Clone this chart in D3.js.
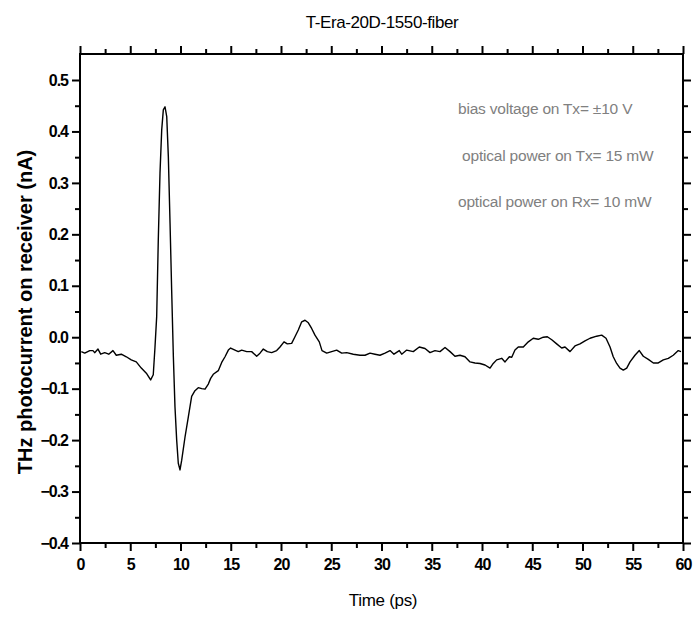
<!DOCTYPE html>
<html>
<head>
<meta charset="utf-8">
<script src="https://cdn.jsdelivr.net/npm/d3@7"></script>
<style>
  body { margin: 0; background: #fff; }
  text { font-family: "Liberation Sans", Arial, sans-serif; }
</style>
</head>
<body>
<script>
// THz photocurrent trace
var timePs = [0.13, 0.47, 0.97, 1.29, 1.46, 1.79, 2.06, 2.46, 2.86, 3.28, 3.61, 4.11, 4.61,
  5.10, 5.60, 6.10, 6.60, 7.03, 7.29, 7.46, 7.63, 7.79, 7.96, 8.13, 8.29, 8.46, 8.63, 8.79,
  8.96, 9.12, 9.29, 9.45, 9.62, 9.78, 9.95, 10.12, 10.45, 10.78, 11.11, 11.44, 11.77, 12.11,
  12.44, 12.77, 13.00, 13.26, 13.76, 14.10, 14.43, 14.76, 14.99, 15.42, 15.75, 16.09, 16.59,
  17.08, 17.58, 17.91, 18.24, 18.64, 19.07, 19.57, 19.90, 20.30, 20.63, 21.06, 21.39, 21.72,
  22.06, 22.39, 22.72, 23.05, 23.38, 23.81, 24.08, 24.55, 25.04, 25.54, 26.04, 26.54, 27.19,
  27.86, 28.36, 28.86, 29.35, 29.85, 30.35, 30.85, 31.24, 31.77, 32.01, 32.51, 33.16, 33.76,
  34.33, 34.83, 35.32, 35.82, 36.32, 36.82, 37.31, 37.81, 38.31, 38.81, 39.30, 39.80, 40.30,
  40.80, 41.12, 41.46, 41.96, 42.29, 42.72, 42.96, 43.28, 43.61, 44.11, 44.61, 45.10, 45.60,
  46.10, 46.50, 46.94, 47.43, 47.93, 48.26, 48.76, 49.25, 49.75, 50.25, 50.75, 51.41, 51.91,
  52.34, 52.74, 53.06, 53.40, 53.73, 54.06, 54.40, 54.73, 55.22, 55.65, 56.05, 56.55, 57.05,
  57.54, 58.04, 58.54, 59.03, 59.53, 59.80];
var currentNa = [-0.028, -0.031, -0.026, -0.026, -0.030, -0.023, -0.033, -0.030, -0.033, -0.026,
  -0.035, -0.033, -0.038, -0.044, -0.048, -0.060, -0.070, -0.083, -0.073, -0.020, 0.040, 0.189,
  0.319, 0.403, 0.442, 0.448, 0.429, 0.351, 0.221, 0.092, -0.038, -0.135, -0.200, -0.245,
  -0.258, -0.239, -0.194, -0.155, -0.115, -0.104, -0.098, -0.100, -0.101, -0.091, -0.080,
  -0.072, -0.065, -0.049, -0.038, -0.025, -0.021, -0.025, -0.028, -0.025, -0.028, -0.028,
  -0.037, -0.031, -0.023, -0.028, -0.030, -0.026, -0.019, -0.009, -0.013, -0.012, 0.001,
  0.014, 0.030, 0.033, 0.028, 0.017, 0.004, -0.009, -0.026, -0.031, -0.028, -0.025, -0.031,
  -0.030, -0.033, -0.035, -0.035, -0.031, -0.033, -0.035, -0.031, -0.026, -0.033, -0.026,
  -0.033, -0.025, -0.028, -0.019, -0.022, -0.030, -0.026, -0.028, -0.020, -0.028, -0.037,
  -0.035, -0.038, -0.048, -0.050, -0.051, -0.054, -0.060, -0.051, -0.044, -0.041, -0.048,
  -0.038, -0.039, -0.025, -0.019, -0.019, -0.009, -0.002, -0.004, 0.000, 0.001, -0.005,
  -0.013, -0.021, -0.019, -0.028, -0.017, -0.013, -0.007, -0.002, 0.002, 0.004, -0.002,
  -0.019, -0.038, -0.051, -0.060, -0.064, -0.060, -0.048, -0.035, -0.026, -0.037, -0.043,
  -0.050, -0.050, -0.044, -0.041, -0.035, -0.026, -0.028];

var xTicks = [0, 5, 10, 15, 20, 25, 30, 35, 40, 45, 50, 55, 60];
var yTicks = [-0.4, -0.3, -0.2, -0.1, 0.0, 0.1, 0.2, 0.3, 0.4, 0.5];
var notes = ["bias voltage on Tx= \u00b110 V", " optical power on Tx= 15 mW", "optical power on Rx= 10 mW"];

var width = 700, height = 622;
var plotLeft = 80, plotRight = 683, plotTop = 54, plotBottom = 543;

var svg = d3.select("body").append("svg")
    .attr("width", width)
    .attr("height", height);

var x = d3.scaleLinear().domain([0, 60]).range([plotLeft, plotRight]);
var y = d3.scaleLinear().domain([-0.4, 0.5]).range([plotBottom, 80]);
// extend y domain up to the top frame
y.domain([-0.4, y.invert(plotTop)]).range([plotBottom, plotTop]);

var xMinor = d3.range(2.5, 60, 5);
var yMinor = d3.range(-0.35, 0.55, 0.1);

function styleAxis(g) {
  g.select(".domain").remove();
  g.selectAll(".tick line").attr("stroke", "#000").attr("stroke-width", 2);
}

// minor ticks
svg.append("g").attr("transform", "translate(0," + plotBottom + ")")
  .call(d3.axisBottom(x).tickValues(xMinor).tickSize(5).tickFormat(""))
  .call(styleAxis);
svg.append("g").attr("transform", "translate(0," + plotTop + ")")
  .call(d3.axisTop(x).tickValues(xMinor).tickSize(5).tickFormat(""))
  .call(styleAxis);
svg.append("g").attr("transform", "translate(" + plotLeft + ",0)")
  .call(d3.axisLeft(y).tickValues(yMinor).tickSize(5).tickFormat(""))
  .call(styleAxis);
svg.append("g").attr("transform", "translate(" + plotRight + ",0)")
  .call(d3.axisRight(y).tickValues(yMinor).tickSize(5).tickFormat(""))
  .call(styleAxis);

// major ticks
var gx = svg.append("g").attr("transform", "translate(0," + plotBottom + ")")
  .call(d3.axisBottom(x).tickValues(xTicks).tickSize(8).tickPadding(8).tickFormat(d3.format("d")))
  .call(styleAxis);
svg.append("g").attr("transform", "translate(0," + plotTop + ")")
  .call(d3.axisTop(x).tickValues(xTicks).tickSize(8).tickFormat(""))
  .call(styleAxis);
var gy = svg.append("g").attr("transform", "translate(" + plotLeft + ",0)")
  .call(d3.axisLeft(y).tickValues(yTicks).tickSize(8).tickPadding(4).tickFormat(d3.format(".1f")))
  .call(styleAxis);
svg.append("g").attr("transform", "translate(" + plotRight + ",0)")
  .call(d3.axisRight(y).tickValues(yTicks).tickSize(8).tickFormat(""))
  .call(styleAxis);

[gx, gy].forEach(function(g) {
  g.selectAll(".tick text")
    .attr("fill", "#000")
    .style("font-family", "'Liberation Sans', Arial, sans-serif")
    .style("font-size", "16px")
    .style("font-weight", "bold")
    .style("letter-spacing", "-1px");
});

// frame
svg.append("rect")
  .attr("x", plotLeft).attr("y", plotTop)
  .attr("width", plotRight - plotLeft).attr("height", plotBottom - plotTop)
  .attr("fill", "none").attr("stroke", "#000").attr("stroke-width", 2);

// curve
var line = d3.line()
  .x(function(d, i) { return x(timePs[i]); })
  .y(function(d) { return y(d); });

svg.append("path")
  .datum(currentNa)
  .attr("d", line)
  .attr("fill", "none")
  .attr("stroke", "#000")
  .attr("stroke-width", 1.4)
  .attr("stroke-linejoin", "round");

// title and axis labels
svg.append("text")
  .attr("x", 382).attr("y", 28)
  .attr("text-anchor", "middle")
  .style("font-size", "17px")
  .style("letter-spacing", "-0.4px")
  .text("T-Era-20D-1550-fiber");

svg.append("text")
  .attr("x", 383).attr("y", 606)
  .attr("text-anchor", "middle")
  .style("font-size", "17px")
  .style("letter-spacing", "-0.3px")
  .text("Time (ps)");

svg.append("text")
  .attr("transform", "translate(32,312) rotate(-90)")
  .attr("text-anchor", "middle")
  .style("font-size", "20px")
  .style("font-weight", "bold")
  .text("THz photocurrent on receiver (nA)");

// annotations
var noteY = [114, 161, 207];
svg.selectAll("text.note")
  .data(notes)
  .enter().append("text")
  .attr("class", "note")
  .attr("x", 458)
  .attr("y", function(d, i) { return noteY[i]; })
  .attr("xml:space", "preserve")
  .style("white-space", "pre")
  .attr("fill", "#808080")
  .style("font-size", "15.5px")
  .style("letter-spacing", "-0.2px")
  .text(function(d) { return d; });
</script>
</body>
</html>
